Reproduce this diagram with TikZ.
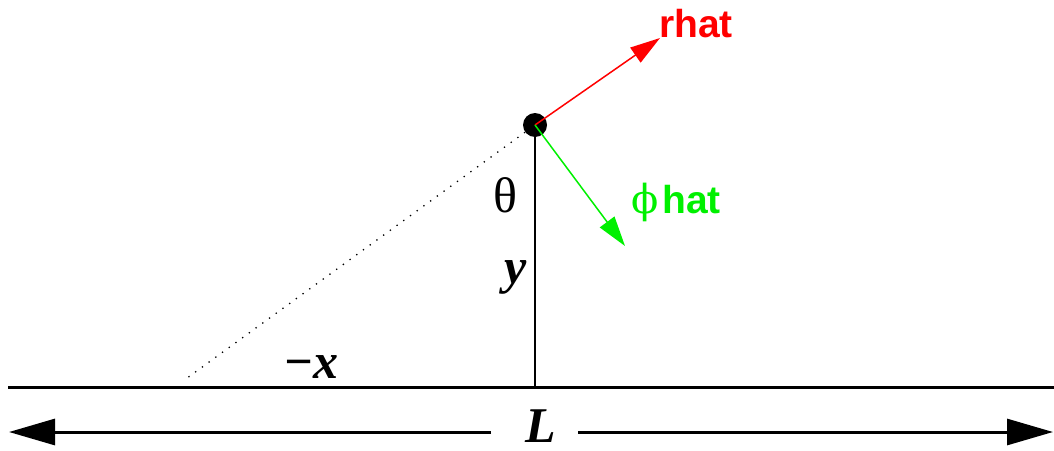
\documentclass[tikz,border=0pt]{standalone}
\usepackage{fontspec}
\setmainfont{Liberation Serif}
\newfontfamily\lsans{Liberation Sans}
\newfontfamily\dvserif{DejaVu Serif}
\usetikzlibrary{arrows.meta}
\definecolor{rred}{RGB}{255,0,0}
\definecolor{ggreen}{RGB}{0,240,0}
\begin{document}
\begin{tikzpicture}[x=1pt,y=-1pt,
  vec/.style={line width=1.5pt,-{Triangle[length=30pt,width=18pt]}},
  bigarrow/.style={line width=3pt,-{Triangle[length=46pt,width=26pt]}},
  mathlbl/.style={font=\fontsize{50}{52}\selectfont\bfseries\itshape,inner sep=0pt},
  hatlbl/.style={font=\fontsize{39}{41}\selectfont\lsans\bfseries,inner sep=0pt}]
\useasboundingbox (0,0) rectangle (1054,450);
% point
\node[circle,fill=black,minimum size=24pt,inner sep=0pt] (P) at (535,125) {};
\coordinate (F) at (535,387);
\coordinate (D) at (183,381);
\coordinate (G1) at (8,387);
\coordinate (G2) at (1054,387);
\coordinate (R) at (660,38);
\coordinate (Ph) at (625,246);
% lines
\draw[line width=3pt] (G1) -- (G2);
\draw[line width=1.6pt] (P.center) -- (F);
\draw[line width=1.3pt,dash pattern=on 1.3pt off 7pt] (P) -- (D);
\draw[vec,color=rred] (P.center) -- (R);
\draw[vec,color=ggreen] (P.center) -- (Ph);
% labels
\node[hatlbl,text=rred,anchor=base west] (rhat) at (659,37) {rhat};
\node[inner sep=0pt,anchor=base west,text=ggreen] (phihat) at (631,213)
  {{\dvserif\fontsize{40}{42}\selectfont ϕ}\hspace{4pt}{\fontsize{39}{41}\selectfont\lsans\bfseries hat}};
\node[inner sep=0pt,anchor=base,font=\fontsize{50}{52}\selectfont] (theta) at (505,212) {θ};
\node[mathlbl,anchor=base] (ylbl) at (516,283) {y};
\node[mathlbl,anchor=base west] (xlbl) at (283,378) {−x};
\node[mathlbl,anchor=base] (L) at (541,442) {L};
% L dimension arrows
\coordinate (La) at (491,432);
\coordinate (Lb) at (578,432);
\coordinate (Lt1) at (9,432);
\coordinate (Lt2) at (1053,432);
\draw[bigarrow] (La) -- (Lt1);
\draw[bigarrow] (Lb) -- (Lt2);
\end{tikzpicture}
\end{document}
